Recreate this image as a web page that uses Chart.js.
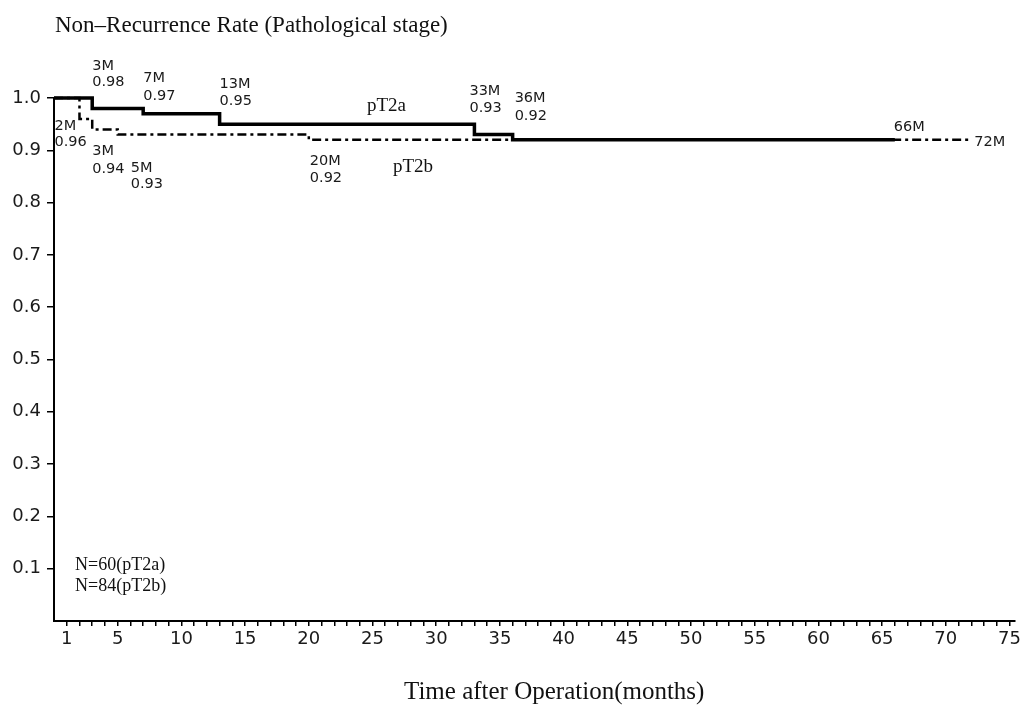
<!DOCTYPE html>
<html>
<head>
<meta charset="utf-8">
<script src="https://cdn.jsdelivr.net/npm/chart.js@4.4.1/dist/chart.umd.min.js"></script>
<style>
  html, body { margin: 0; padding: 0; background: #fff; }
  #wrap { width: 1024px; height: 707px; }
</style>
</head>
<body>
<div id="wrap"><canvas id="kmChart" width="1024" height="707"></canvas></div>
<script>
// Kaplan-Meier steps: month of each drop and the rate after it
const t2aMonths = [0, 3, 7, 13, 33, 36, 66];
const t2aRates  = [1.0, 0.98, 0.97, 0.95, 0.93, 0.92, 0.92];
const t2bMonths = [0, 2, 3, 5, 20, 72];
const t2bRates  = [1.0, 0.96, 0.94, 0.93, 0.92, 0.92];

const groupNames = ['pT2a', 'pT2b'];
const groupSizes = [60, 84];

const xTickLabels = [1, 5, 10, 15, 20, 25, 30, 35, 40, 45, 50, 55, 60, 65, 70, 75];
const yTickLabels = [0.1, 0.2, 0.3, 0.4, 0.5, 0.6, 0.7, 0.8, 0.9, 1.0];
const xTickMonths = [];
for (let m = 1; m <= 75; m++) xTickMonths.push(m);

// where the "xM / rate" notes sit, relative to their step (pixels)
const t2aNotes = [
  { i: 1, dx: 0,  dy: [-38, -22] },
  { i: 2, dx: 0,  dy: [-32, -14] },
  { i: 3, dx: 0,  dy: [-36, -19] },
  { i: 4, dx: -5, dy: [-40, -23] },
  { i: 5, dx: 2,  dy: [-38, -20] },
  { i: 6, dx: -1, dy: [-9] }
];
const t2bNotes = [
  { i: 1, dx: -25, dy: [11, 27] },
  { i: 2, dx: 0,   dy: [26, 44] },
  { i: 3, dx: 13,  dy: [37, 53] },
  { i: 4, dx: 1,   dy: [25, 42] },
  { i: 5, dx: 3,   dy: [6] }
];

const serif = '"Liberation Serif", "Times New Roman", serif';
const sans = '"DejaVu Sans", Verdana, sans-serif';

const notesPlugin = {
  id: 'kmNotes',
  afterDraw(chart) {
    const { ctx, scales: { x, y } } = chart;
    ctx.save();
    ctx.textAlign = 'left';
    ctx.textBaseline = 'alphabetic';
    ctx.fillStyle = '#1a1a1a';
    ctx.font = '14.5px ' + sans;
    const put = (months, rates, notes) => notes.forEach(n => {
      const px = x.getPixelForValue(months[n.i]) + n.dx;
      const py = y.getPixelForValue(rates[n.i]);
      const lines = [months[n.i] + 'M', rates[n.i].toFixed(2)];
      n.dy.forEach((d, k) => ctx.fillText(lines[k], px, py + d));
    });
    put(t2aMonths, t2aRates, t2aNotes);
    put(t2bMonths, t2bRates, t2bNotes);

    ctx.fillStyle = '#111';
    ctx.font = '19px ' + serif;
    ctx.fillText(groupNames[0], 367, 111);
    ctx.fillText(groupNames[1], 393, 172);
    ctx.font = '18px ' + serif;
    ctx.fillText('N=' + groupSizes[0] + '(' + groupNames[0] + ')', 75, 570);
    ctx.fillText('N=' + groupSizes[1] + '(' + groupNames[1] + ')', 75, 591);

    ctx.font = '23px ' + serif;
    ctx.fillText('Non\u2013Recurrence Rate (Pathological stage)', 55, 32);
    ctx.font = '25px ' + serif;
    ctx.fillText('Time after Operation(months)', 404, 699);
    ctx.restore();
  }
};

new Chart(document.getElementById('kmChart'), {
  type: 'line',
  data: {
    datasets: [
      {
        label: groupNames[0],
        data: t2aMonths.map((m, i) => ({ x: m, y: t2aRates[i] })),
        stepped: true,
        borderColor: '#000',
        borderWidth: 3.5,
        pointRadius: 0,
        fill: false,
        clip: false
      },
      {
        label: groupNames[1],
        data: t2bMonths.map((m, i) => ({ x: m, y: t2bRates[i] })),
        stepped: true,
        borderColor: '#000',
        borderWidth: 2.5,
        borderDash: [9, 4, 3, 4],
        pointRadius: 0,
        fill: false,
        clip: false
      }
    ]
  },
  options: {
    responsive: false,
    animation: false,
    layout: { padding: { left: 0, right: 9, top: 98, bottom: 56 } },
    plugins: {
      legend: { display: false },
      tooltip: { enabled: false },
      title: { display: false }
    },
    scales: {
      x: {
        type: 'linear',
        min: 0,
        max: 75.4,
        afterBuildTicks: s => { s.ticks = xTickMonths.map(v => ({ value: v })); },
        afterFit: s => { s.height = 30; },
        grid: { drawOnChartArea: false, drawTicks: true, tickLength: 5, color: '#000', lineWidth: 1.5 },
        border: { color: '#000', width: 2 },
        ticks: {
          autoSkip: false,
          maxRotation: 0,
          padding: 3,
          color: '#1a1a1a',
          font: { family: 'DejaVu Sans', size: 18 },
          callback: v => xTickLabels.includes(v) ? String(v) : ''
        }
      },
      y: {
        type: 'linear',
        min: 0,
        max: 1,
        afterBuildTicks: s => { s.ticks = yTickLabels.map(v => ({ value: v })); },
        afterFit: s => { s.width = 54; },
        grid: { drawOnChartArea: false, drawTicks: true, tickLength: 7, color: '#000', lineWidth: 1.5 },
        border: { color: '#000', width: 2 },
        ticks: {
          padding: 6,
          color: '#1a1a1a',
          font: { family: 'DejaVu Sans', size: 18 },
          callback: v => v.toFixed(1)
        }
      }
    }
  },
  plugins: [notesPlugin]
});
</script>
</body>
</html>
